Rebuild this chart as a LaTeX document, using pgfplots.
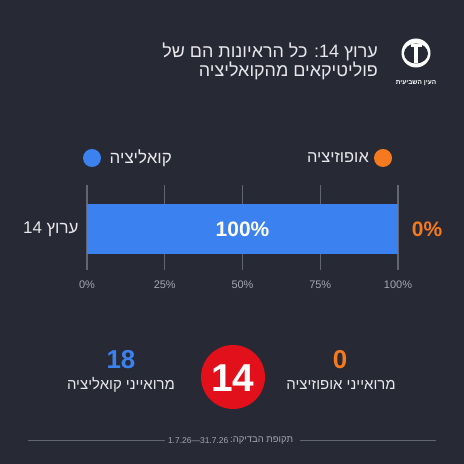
\documentclass[border=0pt]{standalone}
\usepackage{fontspec}
\setmainfont{Liberation Sans}
\newfontfamily\heb[Script=Hebrew]{Liberation Sans}
\usepackage{pgfplots}
\pgfplotsset{compat=1.18}
\TeXXeTstate=1
\definecolor{bg}{RGB}{39,41,53}
\definecolor{cblue}{RGB}{59,130,240}
\definecolor{corange}{RGB}{245,122,31}
\definecolor{cred}{RGB}{225,16,26}
\definecolor{cgray}{RGB}{165,168,178}
\definecolor{gridgray}{RGB}{98,101,114}
\definecolor{gridlight}{RGB}{205,205,210}
\definecolor{ctext}{RGB}{232,232,236}
\begin{document}
\begin{tikzpicture}[x=1bp,y=1bp]
\fill[bg] (0,0) rectangle (464,464);
% title
\node[anchor=east, text=ctext, font=\heb\fontsize{18}{20}\selectfont, inner sep=0] at (378,412) {\beginR ערוץ 14:  כל הראיונות הם של\endR};
\node[anchor=east, text=ctext, font=\heb\fontsize{18}{20}\selectfont, inner sep=0] at (378,393) {\beginR פוליטיקאים מהקואליציה\endR};
% logo
\fill[white] (416,411) circle (14.5);
\fill[bg] (416,410.5) ellipse (12 and 10);
\fill[white] (413.8,401) rectangle (417.6,419);
\fill[white] (410.5,417) rectangle (421.5,419.5);
\node[text=white, font=\heb\bfseries\fontsize{6.5}{6.5}\selectfont, inner sep=0] at (416,381) {\beginR העין השביעית\endR};
% legend
\fill[cblue] (92,306) circle (9);
\node[anchor=west, text=ctext, font=\heb\fontsize{17}{17}\selectfont, inner sep=0] at (109.5,306) {\beginR קואליציה\endR};
\fill[corange] (383,306) circle (9);
\node[anchor=east, text=ctext, font=\heb\fontsize{16.5}{16.5}\selectfont, inner sep=0] at (369,306) {\beginR אופוזיציה\endR};
\begin{axis}[
  at={(87bp,194bp)}, anchor=south west, scale only axis,
  width=311bp, height=85bp,
  xmin=0, xmax=100, ymin=-0.82, ymax=0.88,
  xbar stacked, bar width=50bp,
  axis line style={draw=none},
  major tick length=0,
  xtick={25,50,75}, xticklabels={25\%,50\%,75\%},
  extra x ticks={0,100}, extra x tick labels={0\%,100\%},
  xmajorgrids,
  major grid style={gridgray, line width=1.2bp},
  extra x tick style={grid style={gridlight, line width=1.6bp}},
  xticklabel style={text=cgray, font=\fontsize{11}{11}\selectfont, yshift=-7bp},
  ytick={0}, yticklabels={{\heb\beginR ערוץ 14\endR}},
  yticklabel style={text=ctext, font=\fontsize{17}{17}\selectfont, xshift=-5bp},
]
\addplot[fill=cblue, draw=none] coordinates {(100,0)};
\addplot[fill=corange, draw=none] coordinates {(0,0)};
\end{axis}
\node[text=white, font=\bfseries\fontsize{21}{21}\selectfont] at (242.5,235) {100\%};
\node[text=corange, font=\bfseries\fontsize{21}{21}\selectfont] at (427,235) {0\%};
% bottom counters
\node[text=cblue, font=\bfseries\fontsize{26}{26}\selectfont] at (121,104) {18};
\node[text=ctext, font=\heb\fontsize{15}{15}\selectfont] at (121,79) {\beginR מרואייני קואליציה\endR};
\fill[cred] (233,87) circle (32);
\node[text=white, font=\bfseries\fontsize{39}{39}\selectfont] at (233,86) {14};
\node[text=corange, font=\bfseries\fontsize{26}{26}\selectfont] at (340,104) {0};
\node[text=ctext, font=\heb\fontsize{15}{15}\selectfont] at (341,79) {\beginR מרואייני אופוזיציה\endR};
% footer
\draw[gridgray, line width=1bp] (28,23) -- (165,23);
\draw[gridgray, line width=1bp] (300,23) -- (436,23);
\node[anchor=west, text=cgray, font=\heb\fontsize{9.5}{9.5}\selectfont, inner sep=0] at (230,23) {\beginR תקופת הבדיקה:\endR};
\node[anchor=east, text=cgray, font=\fontsize{8.5}{8.5}\selectfont, inner sep=0] at (228.5,23) {1.7.26---31.7.26};
\end{tikzpicture}
\end{document}
